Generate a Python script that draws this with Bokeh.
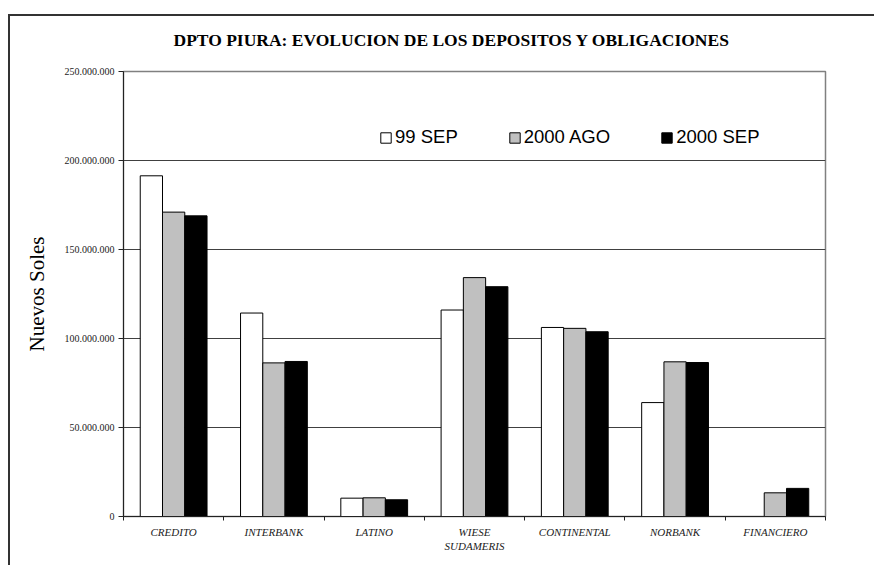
from bokeh.plotting import figure
from bokeh.models import (ColumnDataSource, Range1d, FixedTicker, Legend, LegendItem)
from bokeh.embed import file_html
from bokeh.resources import INLINE

# ---- data (millions of Nuevos Soles) ----
categories = ["CREDITO", "INTERBANK", "LATINO", "WIESE\nSUDAMERIS",
              "CONTINENTAL", "NORBANK", "FINANCIERO"]
series_names = ["99 SEP", "2000 AGO", "2000 SEP"]
sep99 = [191.4, 114.3, 10.3, 116.0, 106.2, 64.0, 0.0]
ago2000 = [171.0, 86.3, 10.5, 134.2, 105.7, 86.9, 13.3]
sep2000 = [168.9, 87.1, 9.4, 129.1, 103.8, 86.5, 15.8]
ytick_values = [0, 50, 100, 150, 200, 250]
ytick_labels = ["0", "50.000.000", "100.000.000", "150.000.000",
                "200.000.000", "250.000.000"]
title_text = "DPTO PIURA: EVOLUCION DE LOS DEPOSITOS Y OBLIGACIONES"

colors = ["#FFFFFF", "#C0C0C0", "#000000"]
series = [sep99, ago2000, sep2000]

SERIF = "Liberation Serif"
SANS = "Liberation Sans"

W, H = 866, 560
p = figure(width=W, height=H, output_backend="svg", toolbar_location=None,
           x_range=Range1d(0, len(categories)), y_range=Range1d(0, 250),
           min_border_left=115, min_border_top=66, min_border_right=W - 817,
           min_border_bottom=H - 511)
# outer chart-area border (left and top edges) drawn as CSS background lines
p.styles = {
    "margin-left": "8px", "margin-top": "5px",
    "background-color": "white",
    "background-image": "linear-gradient(#333333, #333333), linear-gradient(#333333, #333333)",
    "background-size": "2px 100%, 100% 2px",
    "background-position": "0px 9px, 0px 9px",
    "background-repeat": "no-repeat",
}

p.background_fill_color = "white"
p.border_fill_color = None
p.outline_line_color = "#808080"
p.outline_line_width = 1.5

bw = 0.222
centers = [i + 0.5 for i in range(len(categories))]
items = []
for j, (vals, col, name) in enumerate(zip(series, colors, series_names)):
    src = ColumnDataSource(dict(x=[c + (j - 1) * bw for c in centers], top=vals))
    r = p.vbar(x="x", top="top", width=bw, source=src, fill_color=col,
               line_color="black", line_width=1)
    items.append(LegendItem(label=name, renderers=[r]))

legend = Legend(items=items, orientation="horizontal", location=(256, 368),
                margin=0, padding=0, spacing=50, label_standoff=3,
                glyph_width=13, glyph_height=13,
                label_text_font=SANS, label_text_font_size="18.5px",
                label_text_color="black", background_fill_alpha=0,
                border_line_alpha=0)
p.add_layout(legend, "center")

# grid
p.xgrid.visible = False
p.ygrid.ticker = FixedTicker(ticks=ytick_values)
p.ygrid.grid_line_color = "#404040"
p.ygrid.grid_line_width = 1

# y axis
p.yaxis.ticker = FixedTicker(ticks=ytick_values)
p.yaxis.major_label_overrides = {v: l for v, l in zip(ytick_values, ytick_labels)}
p.yaxis.major_label_text_font = SERIF
p.yaxis.major_label_text_font_size = "10px"
p.yaxis.major_label_text_color = "#222222"
p.yaxis.major_tick_out = 5
p.yaxis.major_tick_in = 0
p.yaxis.minor_tick_out = 0
p.yaxis.minor_tick_in = 0
p.yaxis.axis_line_color = "#222222"
p.yaxis.major_tick_line_color = "#222222"
p.yaxis.major_label_standoff = 4
p.yaxis.axis_label = "Nuevos Soles"
p.yaxis.axis_label_text_font = SERIF
p.yaxis.axis_label_text_font_size = "21px"
p.yaxis.axis_label_text_font_style = "normal"
p.yaxis.axis_label_text_color = "black"
p.yaxis.axis_label_standoff = 13

# x axis: labels at category centres, ticks at category boundaries
p.xaxis.ticker = FixedTicker(ticks=centers,
                             minor_ticks=list(range(len(categories) + 1)))
p.xaxis.major_label_overrides = {c: n for c, n in zip(centers, categories)}
p.xaxis.major_tick_out = 0
p.xaxis.major_tick_in = 0
p.xaxis.minor_tick_out = 4
p.xaxis.minor_tick_in = 0
p.xaxis.minor_tick_line_color = "#222222"
p.xaxis.axis_line_color = "#222222"
p.xaxis.major_label_text_font = SERIF
p.xaxis.major_label_text_font_size = "11px"
p.xaxis.major_label_text_font_style = "italic"
p.xaxis.major_label_text_color = "#222222"
p.xaxis.major_label_standoff = 5

# title
p.title.text = title_text
p.title.text_font = SERIF
p.title.text_font_size = "17.5px"
p.title.text_font_style = "bold"
p.title.text_color = "black"
p.title.align = "left"
p.title.offset = 50
p.title.standoff = 43

open("out.html", "w").write(file_html(p, INLINE))
